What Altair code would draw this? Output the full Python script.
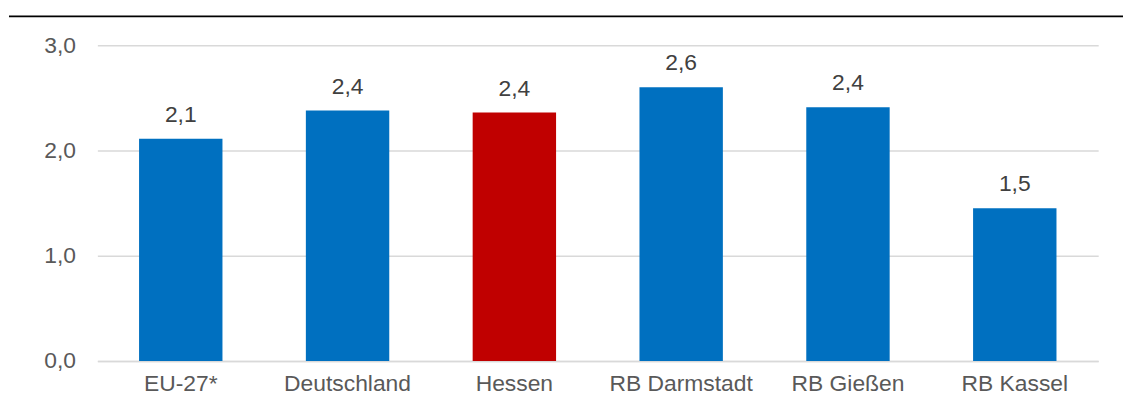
import altair as alt
import pandas as pd

categories = ["EU-27*", "Deutschland", "Hessen", "RB Darmstadt", "RB Gießen", "RB Kassel"]
values = [2.11, 2.38, 2.36, 2.60, 2.41, 1.45]
labels = ["2,1", "2,4", "2,4", "2,6", "2,4", "1,5"]
colors = ["#0070C0", "#0070C0", "#C00000", "#0070C0", "#0070C0", "#0070C0"]

df = pd.DataFrame({"cat": categories, "val": values, "lab": labels, "col": colors})

FONT = "Liberation Sans"
W, H = 1008, 318

x = alt.X("cat:N", sort=categories, title=None,
          scale=alt.Scale(paddingInner=0.5, paddingOuter=0.25),
          axis=alt.Axis(labelAngle=0, labelFont=FONT, labelFontSize=23, labelColor="#595959",
                        ticks=False, domainColor="#d9d9d9", domainWidth=1.5, labelPadding=12))
y = alt.Y("val:Q", title=None,
          scale=alt.Scale(domain=[0, 3], nice=False),
          axis=alt.Axis(values=[0, 1, 2, 3], labelExpr="replace(format(datum.value, '.1f'), '.', ',')",
                        labelFont=FONT, labelFontSize=23, labelColor="#595959", ticks=False,
                        domain=False, gridColor="#d9d9d9", gridWidth=1.5, labelPadding=22))

base = alt.Chart(df)
bars = base.mark_bar().encode(x=x, y=y, color=alt.Color("col:N", scale=None))
text = base.mark_text(dy=-24, font=FONT, fontSize=23, color="#404040").encode(
    x=alt.X("cat:N", sort=categories), y="val:Q", text="lab:N")
topline = alt.Chart(pd.DataFrame({"a": [0]})).mark_rule(color="black", strokeWidth=2, clip=False).encode(
    x=alt.value(-89), x2=alt.value(1033), y=alt.value(-29))

chart = alt.layer(bars, text, topline).properties(
    width=W, height=H,
    autosize=alt.AutoSizeParams(type="none"),
    padding={"left": 90, "top": 36, "right": 25, "bottom": 45},
).configure(background="white").configure_view(stroke=None, strokeWidth=0)

chart.save("out.html", embed_options={"renderer": "svg", "actions": False})
